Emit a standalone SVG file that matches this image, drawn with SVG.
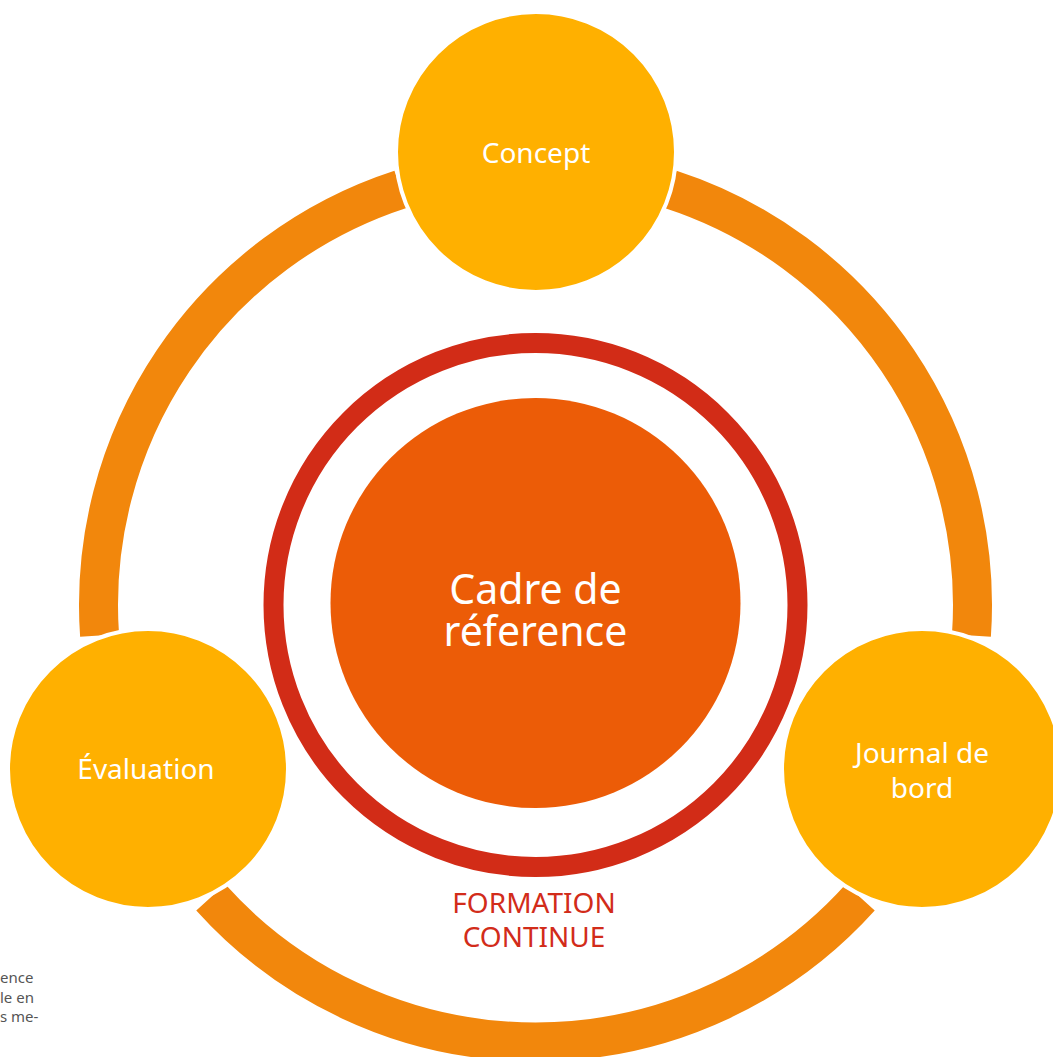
<svg xmlns="http://www.w3.org/2000/svg" width="1053" height="1057" viewBox="0 0 1053 1057">
<style>
.ring{fill:none;stroke:#F2870C;stroke-width:39;stroke-linecap:butt}
.node{fill:#FFB000;stroke:#FFFFFF;stroke-width:4}
.lbl{font-family:"Noto Sans","Open Sans",sans-serif;fill:#FFFFFF;text-anchor:middle}
.red{font-family:"Noto Sans","Open Sans",sans-serif;fill:#D22C1A;text-anchor:middle;font-size:28px}
.side{font-family:"Noto Sans","Open Sans",sans-serif;fill:#555555;font-size:15px}
</style>
<rect width="1053" height="1057" fill="#FFFFFF"/>
<g id="connectors">
<path class="ring" d="M670.54,189.39 A437,437 0 0 1 971.43,635.49"/>
<path class="ring" d="M860.25,897.41 A437,437 0 0 1 210.75,897.41"/>
<path class="ring" d="M99.57,635.49 A437,437 0 0 1 400.46,189.39"/>
</g>
<g id="center">
<circle cx="535.5" cy="605" r="262" fill="none" stroke="#D22C17" stroke-width="20"/>
<circle cx="535.5" cy="603" r="205" fill="#EC5C07"/>
<text class="lbl" font-size="41" x="535.5" y="604">Cadre de</text>
<text class="lbl" font-size="41" x="535.5" y="646">réference</text>
</g>
<g id="concept">
<circle class="node" cx="536" cy="152" r="140"/>
<text class="lbl" font-size="28" x="536" y="163">Concept</text>
</g>
<g id="evaluation">
<circle class="node" cx="148" cy="769" r="140"/>
<text class="lbl" font-size="28" x="146" y="779">Évaluation</text>
</g>
<g id="journal">
<circle class="node" cx="922" cy="769" r="140"/>
<text class="lbl" font-size="28" x="922" y="763">Journal de</text>
<text class="lbl" font-size="28" x="922" y="798">bord</text>
</g>
<g id="formation">
<text class="red" x="534" y="913">FORMATION</text>
<text class="red" x="534" y="947">CONTINUE</text>
</g>
<g id="sidetext">
<text class="side" x="0" y="983">ence</text>
<text class="side" x="0" y="1003">le en</text>
<text class="side" x="0" y="1022">s me-</text>
</g>
</svg>
